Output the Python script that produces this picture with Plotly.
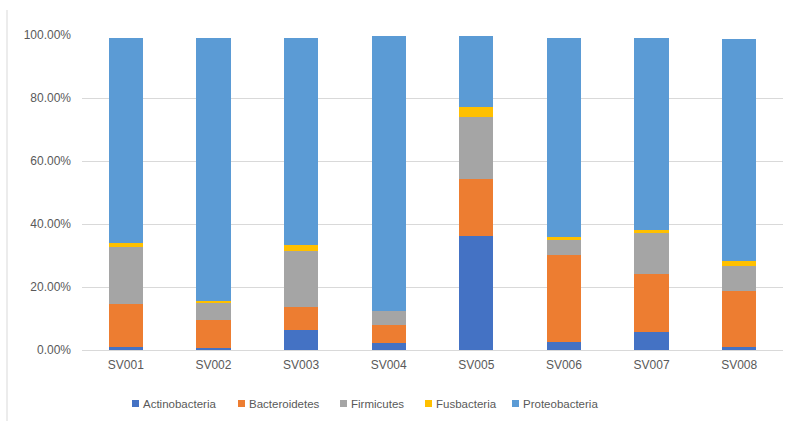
import plotly.graph_objects as go

samples = ["SV001", "SV002", "SV003", "SV004", "SV005", "SV006", "SV007", "SV008"]
actinobacteria = [1.1, 0.5, 6.3, 2.1, 36.1, 2.6, 5.8, 1.1]
bacteroidetes = [13.5, 8.9, 7.2, 5.7, 18.2, 27.7, 18.2, 17.7]
firmicutes = [18.2, 5.8, 17.9, 4.7, 19.8, 4.6, 13.0, 7.9]
fusbacteria = [1.1, 0.5, 1.9, 0.0, 3.1, 1.1, 1.2, 1.6]
proteobacteria = [65.3, 83.5, 65.9, 87.3, 22.6, 63.2, 61.0, 70.3]

series_names = ["Actinobacteria", "Bacteroidetes", "Firmicutes", "Fusbacteria", "Proteobacteria"]
series_values = [actinobacteria, bacteroidetes, firmicutes, fusbacteria, proteobacteria]
colors = ["#4472C4", "#ED7D31", "#A5A5A5", "#FFC000", "#5B9BD5"]

# plot-area geometry (pixels)
L, R, T, B = 82, 6, 35, 71
W, H = 789, 421
pw, ph = W - L - R, H - T - B

def px_x(px):
    return (px - L) / pw

def px_y(py):
    return (H - B - py) / ph

fig = go.Figure()
for name, vals, col in zip(series_names, series_values, colors):
    fig.add_trace(go.Bar(x=samples, y=vals, name=name,
                         marker=dict(color=col, line=dict(width=0))))

font = dict(family="Liberation Sans, Arial, sans-serif", size=12, color="#595959")

# manual legend (marker square + text), positioned like the reference
legend_marker_left = [132, 238, 340, 425, 512]
shapes = [dict(type="line", xref="paper", yref="paper",
               x0=px_x(7), x1=px_x(7), y0=px_y(10), y1=px_y(425),
               line=dict(color="#d9d9d9", width=1))]
annotations = []
for name, col, mx in zip(series_names, colors, legend_marker_left):
    shapes.append(dict(type="rect", xref="paper", yref="paper",
                       x0=px_x(mx), x1=px_x(mx + 7), y0=px_y(407), y1=px_y(400),
                       fillcolor=col, line=dict(width=0)))
    annotations.append(dict(text=name, xref="paper", yref="paper",
                            x=px_x(mx + 9), y=px_y(403.5), xanchor="left", yanchor="middle",
                            showarrow=False, font=dict(family=font["family"], size=11.5,
                                                        color="#595959")))

fig.update_layout(
    barmode="stack",
    bargap=0.61,
    width=W, height=H,
    margin=dict(l=L, r=R, t=T, b=B),
    paper_bgcolor="white", plot_bgcolor="white",
    font=font,
    showlegend=False,
    xaxis=dict(showgrid=False, showline=True, linecolor="#d9d9d9", linewidth=1,
               ticks="", tickfont=font, ticklabelstandoff=4),
    yaxis=dict(range=[0, 100], dtick=20, tickformat=".2f", ticksuffix="%",
               showgrid=True, gridcolor="#d9d9d9", gridwidth=1, zeroline=False,
               ticks="", tickfont=font, ticklabelstandoff=10, fixedrange=True),
    shapes=shapes,
    annotations=annotations,
)

fig.write_html("out.html")
